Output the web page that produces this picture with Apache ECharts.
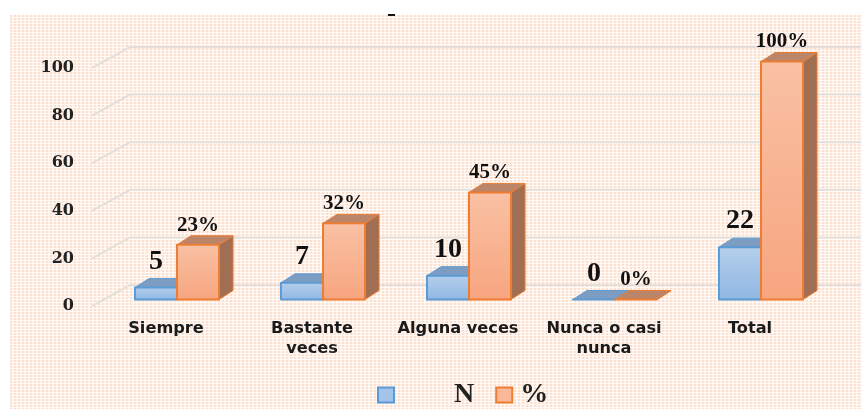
<!DOCTYPE html>
<html><head><meta charset="utf-8">
<style>
html,body{margin:0;padding:0;background:#fff;width:862px;height:409px;overflow:hidden}
#bg{position:absolute;left:10px;top:15px;width:852px;height:394px;
background-color:#fff;
background-image:linear-gradient(0deg,rgba(255,255,255,.85) 0,rgba(255,255,255,.85) 1px,transparent 1px),linear-gradient(90deg,#fddfcd 0,#fddfcd 2px,#fff3ec 2px);
background-size:4px 3px,4px 4px}
#c{position:absolute;left:0;top:0;width:862px;height:409px;filter:blur(0.35px)}
</style>
<script src="https://cdn.jsdelivr.net/npm/echarts@6/dist/echarts.min.js"></script>
</head><body><div id="bg"></div><div id="c"></div>
<script>
const categories=['Siempre','Bastante\nveces','Alguna veces','Nunca o casi\nnunca','Total'];
const countValues=[5,7,10,0,22];
const percentValues=[23,32,45,0,100];
const yTicks=[0,20,40,60,80,100];

const chart=echarts.init(document.getElementById('c'),null,{renderer:'canvas'});
const DX=14,DY=9,SHIFTX=11,SHIFTY=6.5;
const serif='"Liberation Serif",serif';
function grad(a,b){return new echarts.graphic.LinearGradient(0,0,0,1,[{offset:0,color:a},{offset:1,color:b}]);}
function barItem(side,col){
  return function(params,api){
    const i=api.value(0),v=api.value(1);
    const band=api.size([1,0])[0];
    const w=band*0.288;
    const c=api.coord([i,v]),b=api.coord([i,0]);
    const x0=(side<0?c[0]-w:c[0])+SHIFTX, x1=x0+w;
    const yt=c[1]-SHIFTY, yb=b[1]-SHIFTY;
    const stroke={stroke:col.line,lineWidth:2,lineJoin:'round'};
    const kids=[
      {type:'polygon',shape:{points:[[x1,yt],[x1+DX,yt-DY],[x1+DX,yb-DY],[x1,yb]]},style:{fill:col.side,stroke:col.line,lineWidth:1}},
      {type:'polygon',shape:{points:[[x0,yt],[x0+DX,yt-DY],[x1+DX,yt-DY],[x1,yt]]},style:{fill:col.top,stroke:col.line,lineWidth:1}},
      {type:'rect',shape:{x:x0,y:yt,width:w,height:yb-yt},style:Object.assign({fill:grad(col.a,col.b)},stroke)},
      {type:'text',style:{
        text:v+col.suffix,x:(x0+x1)/2+col.lx,y:yt-DY-col.ly,
        align:'center',verticalAlign:'bottom',
        font:col.font,fill:'#111'}}
    ];
    return {type:'group',children:kids};
  };
}
const blue={line:'#5b9bd5',side:'#6f92ba',top:'#7c9cc2',a:'#b5cfeb',b:'#8fb7e3',suffix:'',lx:0,ly:3,font:'bold 28px '+serif};
const orange={line:'#ed7d31',side:'#a06e52',top:'#bb8569',a:'#f9c1a4',b:'#f7a57f',suffix:'%',lx:0,ly:0,font:'bold 21px '+serif};
const gridData=yTicks.map(t=>[0,t]);
chart.setOption({
  animation:false,
  grid:{left:93,top:68,width:730,bottom:103,containLabel:false},
  xAxis:{type:'category',data:categories,axisLine:{show:false},axisTick:{show:false},
    axisLabel:{margin:13,color:'#1a1a1a',fontFamily:'"DejaVu Sans"',fontWeight:'bold',fontSize:16.2,lineHeight:20,interval:0}},
  yAxis:{type:'value',min:0,max:100,interval:20,axisLine:{show:false},axisTick:{show:false},splitLine:{show:false},
    axisLabel:{margin:19,color:'#222',fontFamily:'"DejaVu Serif"',fontWeight:'bold',fontSize:16}},
  legend:{left:372,top:376,itemWidth:16,itemHeight:15,itemGap:21,icon:'rect',selectedMode:false,
    data:[
      {name:'N',itemStyle:{color:'#a3c3e8',borderColor:'#5b9bd5',borderWidth:2},
       textStyle:{color:'#222',fontFamily:serif,fontWeight:'bold',fontSize:28,padding:[0,0,0,55],height:20}},
      {name:'%',itemStyle:{color:'#f9b89a',borderColor:'#ed7d31',borderWidth:2},
       textStyle:{color:'#222',fontFamily:serif,fontWeight:'bold',fontSize:28,padding:[0,0,0,3],height:20}}
    ]},
  series:[
    {type:'custom',name:'grid',silent:true,z:1,data:gridData,encode:{x:0,y:1},
     renderItem(params,api){
       const cs=params.coordSys,y=api.coord([0,api.value(1)])[1];
       return {type:'polyline',shape:{points:[[cs.x-1,y],[cs.x+37,y-21],[cs.x+cs.width+38,y-21]]},
         style:{fill:null,stroke:'#e4dfda',lineWidth:2}};
     }},
    {type:'custom',name:'N',z:2,itemStyle:{color:'#a3c3e8'},data:countValues.map((v,i)=>[i,v]),encode:{x:0,y:1},renderItem:barItem(-1,blue)},
    {type:'custom',name:'%',z:3,itemStyle:{color:'#f9b89a'},data:percentValues.map((v,i)=>[i,v]),encode:{x:0,y:1},renderItem:barItem(1,orange)}
  ],
  graphic:[{type:'rect',shape:{x:388,y:14,width:7,height:2},style:{fill:'#111'},silent:true}]
});
</script></body></html>
